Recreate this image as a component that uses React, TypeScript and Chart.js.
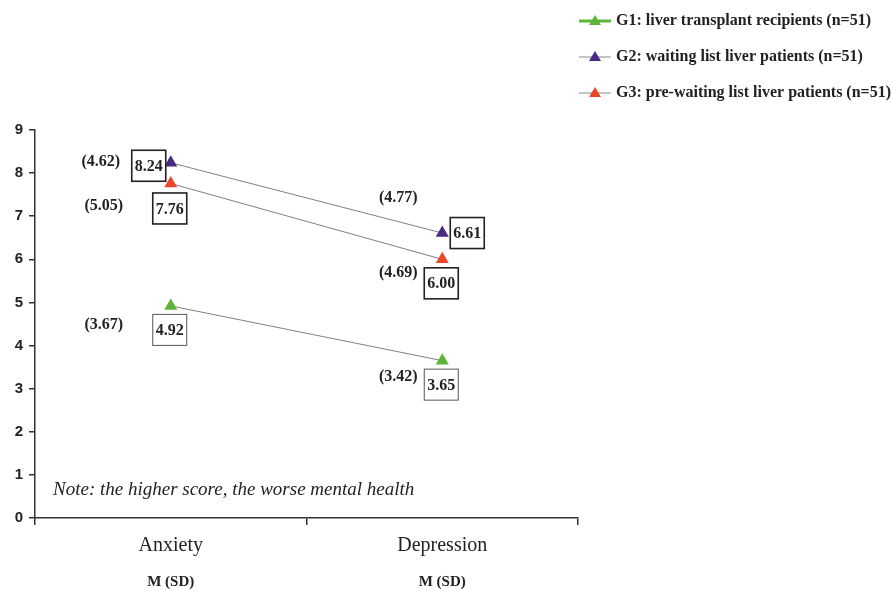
import { useEffect, useRef } from "react";
import { Chart, registerables } from "chart.js";

Chart.register(...registerables);

const categories = ["Anxiety", "Depression"];
const groupLabels = [
  "G1: liver transplant recipients (n=51)",
  "G2: waiting list liver patients (n=51)",
  "G3: pre-waiting list liver patients (n=51)",
];
const g1Means = [4.92, 3.65];
const g2Means = [8.24, 6.61];
const g3Means = [7.76, 6.0];
const g1SD = [3.67, 3.42];
const g2SD = [4.62, 4.77];
const g3SD = [5.05, 4.69];
const subLabel = "M (SD)";
const note = "Note: the higher score, the worse mental health";

const markerColors = ["#5cb53a", "#4a2a86", "#e8472b"];
const sds = [g1SD, g2SD, g3SD];

// offsets (px) of the mean box and SD text from each marker: [dataset][category]
const boxOffsets = [
  [[-1, 24], [-1, 24]],
  [[-22, 3], [25, 0]],
  [[-1, 25], [-1, 24]],
];
const sdOffsets = [
  [[-67, 19], [-44, 16]],
  [[-70, -1], [-44, -35]],
  [[-67, 22], [-44, 14]],
];

const serif = '"Liberation Serif", "Times New Roman", serif';

const annotations = {
  id: "annotations",
  afterDatasetsDraw(chart: any) {
    const ctx = chart.ctx;
    const x = chart.scales.x;
    ctx.save();
    chart.data.datasets.forEach((ds: any, di: number) => {
      const meta = chart.getDatasetMeta(di);
      meta.data.forEach((pt: any, ci: number) => {
        const [bx, by] = boxOffsets[di][ci];
        const cx = pt.x + bx;
        const cy = pt.y + by;
        ctx.fillStyle = "#fff";
        ctx.fillRect(cx - 17, cy - 15.5, 34, 31);
        ctx.strokeStyle = di === 0 ? "#555" : "#222";
        ctx.lineWidth = di === 0 ? 1 : 1.6;
        ctx.strokeRect(cx - 17, cy - 15.5, 34, 31);
        ctx.fillStyle = "#222";
        ctx.font = `bold 16px ${serif}`;
        ctx.textAlign = "center";
        ctx.textBaseline = "middle";
        ctx.fillText(ds.data[ci].toFixed(2), cx, cy + 1);
        const [sx, sy] = sdOffsets[di][ci];
        ctx.font = `bold 16px ${serif}`;
        ctx.fillText(`(${sds[di][ci].toFixed(2)})`, pt.x + sx, pt.y + sy);
      });
    });
    // note
    ctx.font = `italic 19px ${serif}`;
    ctx.textAlign = "left";
    ctx.fillStyle = "#222";
    ctx.fillText(note, 53, 490);
    // M (SD) under categories
    ctx.font = `bold 15px ${serif}`;
    ctx.textAlign = "center";
    categories.forEach((_, i) => {
      ctx.fillText(subLabel, x.getPixelForValue(i), 582);
    });
    // legend
    const rows = [21, 57, 93];
    chart.data.datasets.forEach((ds: any, di: number) => {
      const y = rows[di];
      ctx.strokeStyle = di === 0 ? markerColors[0] : "#888";
      ctx.lineWidth = di === 0 ? 3 : 1;
      ctx.beginPath();
      ctx.moveTo(579, y);
      ctx.lineTo(611, y);
      ctx.stroke();
      ctx.fillStyle = markerColors[di];
      ctx.beginPath();
      ctx.moveTo(595, y - 6);
      ctx.lineTo(601, y + 4);
      ctx.lineTo(589, y + 4);
      ctx.closePath();
      ctx.fill();
      ctx.fillStyle = "#222";
      ctx.font = `bold 16px ${serif}`;
      ctx.textAlign = "left";
      ctx.fillText(ds.label, 616, y);
    });
    ctx.restore();
  },
};

export default function App() {
  const ref = useRef<HTMLCanvasElement>(null);
  useEffect(() => {
    if (!ref.current) return;
    const means = [g1Means, g2Means, g3Means];
    const chart = new Chart(ref.current, {
      type: "line",
      data: {
        labels: categories,
        datasets: means.map((m, i) => ({
          label: groupLabels[i],
          data: m,
          borderColor: "#808080",
          borderWidth: 1,
          pointStyle: "triangle",
          pointRadius: 7.5,
          pointBackgroundColor: markerColors[i],
          pointBorderColor: markerColors[i],
          pointBorderWidth: 0,
        })),
      },
      options: {
        animation: false,
        responsive: true,
        maintainAspectRatio: false,
        layout: { padding: { top: 130, right: 314, left: 0, bottom: 0 } },
        plugins: { legend: { display: false }, tooltip: { enabled: false } },
        scales: {
          x: {
            offset: true,
            afterFit: (s: any) => {
              s.height = 73;
            },
            grid: {
              offset: true,
              drawOnChartArea: false,
              tickLength: 7,
              color: "#333",
              lineWidth: 1.5,
            },
            border: { color: "#333", width: 1.5 },
            ticks: {
              color: "#222",
              font: { family: serif, size: 20 },
              padding: 9,
            },
          },
          y: {
            min: 0,
            max: 9,
            afterFit: (s: any) => {
              s.width = 35;
            },
            grid: {
              drawOnChartArea: false,
              tickLength: 6,
              color: "#333",
              lineWidth: 1.5,
            },
            border: { color: "#333", width: 1.5 },
            ticks: {
              stepSize: 1,
              color: "#222",
              padding: 6,
              font: { family: '"Liberation Sans", Arial, sans-serif', size: 15, weight: "bold" },
            },
          },
        },
      },
      plugins: [annotations],
    });
    return () => chart.destroy();
  }, []);
  return (
    <div style={{ position: "absolute", left: 0, top: 0, width: 892, height: 591, background: "#fff" }}>
      <canvas ref={ref} />
    </div>
  );
}
